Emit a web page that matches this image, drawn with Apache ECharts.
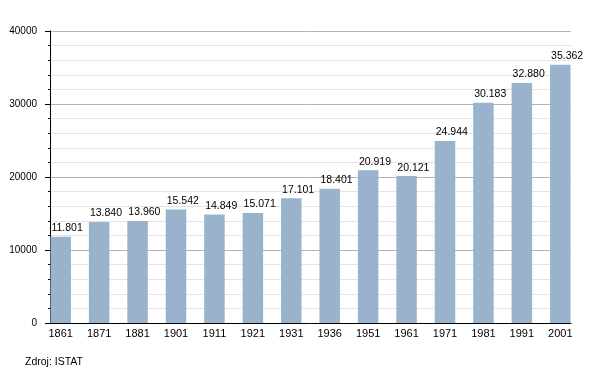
<!DOCTYPE html>
<html>
<head>
<meta charset="utf-8">
<script src="https://cdn.jsdelivr.net/npm/echarts@6/dist/echarts.min.js"></script>
<style>html,body{margin:0;padding:0;background:#fff}#c{width:600px;height:373px}</style>
</head>
<body>
<div id="c"></div>
<script>
const years = ['1861','1871','1881','1901','1911','1921','1931','1936','1951','1961','1971','1981','1991','2001'];
const population = [11801,13840,13960,15542,14849,15071,17101,18401,20919,20121,24944,30183,32880,35362];
const yMin = 0, yMax = 40000, yStep = 10000;
const sourceText = 'Zdroj: ISTAT';

const fmt = v => String(v).replace(/\B(?=(\d{3})+(?!\d))/g, '.');
const font = 'Liberation Sans, Arial, sans-serif';
const chart = echarts.init(document.getElementById('c'), null, {renderer: 'canvas'});
chart.setOption({
  animation: false,
  backgroundColor: '#fff',
  title: {
    text: sourceText, left: 20, top: 352,
    textStyle: {fontSize: 10.5, fontWeight: 'normal', color: '#000', fontFamily: font}
  },
  grid: [
    {left: 50, right: 29, top: 31, bottom: 50},
    {left: 41.5, right: 20.5, top: 31, bottom: 50}
  ],
  xAxis: [
    {gridIndex: 0, type: 'value', min: 0, max: 1,
     axisLine: {show: true, lineStyle: {color: '#000', width: 1}},
     axisTick: {show: false}, axisLabel: {show: false}, splitLine: {show: false}},
    {gridIndex: 1, type: 'category', data: years,
     axisLine: {show: false}, axisTick: {show: false}, splitLine: {show: false},
     axisLabel: {fontSize: 11, color: '#000', fontFamily: font, margin: 5}}
  ],
  yAxis: [
    {gridIndex: 0, type: 'value', min: yMin, max: yMax, interval: yStep,
     axisLine: {show: true, lineStyle: {color: '#000', width: 1}},
     axisTick: {show: true, length: 5, lineStyle: {color: '#000'}},
     minorTick: {show: true, splitNumber: 5, length: 2, lineStyle: {color: '#000'}},
     splitLine: {show: true, lineStyle: {color: '#b4b4b4', width: 1}},
     minorSplitLine: {show: true, lineStyle: {color: '#e4e4e4', width: 1}},
     axisLabel: {fontSize: 10, color: '#000', fontFamily: font, margin: 13,
                 formatter: v => String(v)}},
    {gridIndex: 1, type: 'value', min: yMin, max: yMax, show: false}
  ],
  series: [{
    type: 'bar', xAxisIndex: 1, yAxisIndex: 1,
    data: population, barWidth: 20.5,
    itemStyle: {color: '#9ab3cd'},
    label: {show: true, position: [1, -3], align: 'left', verticalAlign: 'bottom',
            fontSize: 10.5, color: '#000', fontFamily: font, formatter: p => fmt(p.value)}
  }]
});
</script>
</body>
</html>
